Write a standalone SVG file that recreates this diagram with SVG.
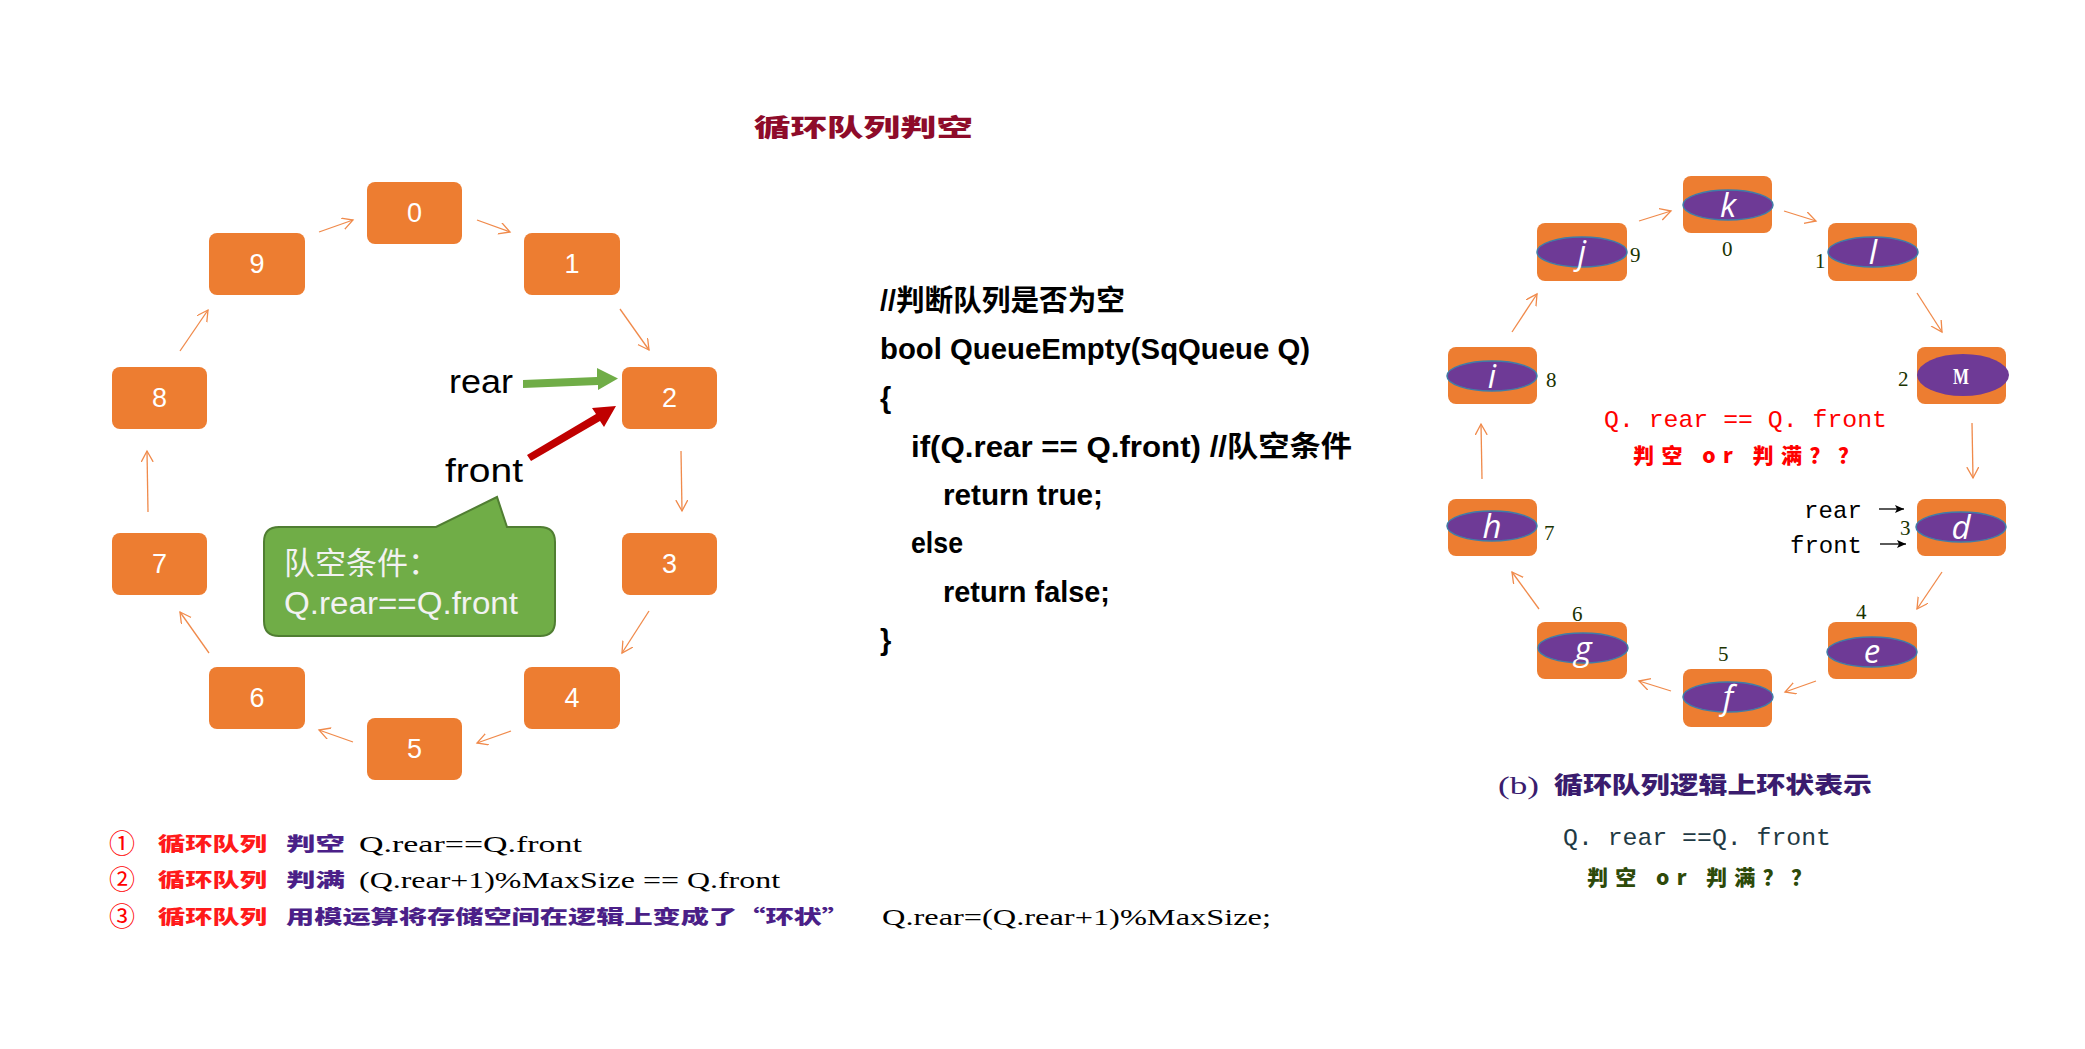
<svg xmlns="http://www.w3.org/2000/svg" width="2085" height="1049" viewBox="0 0 2085 1049">
<style>
.lnode{fill:#ED7D31}
.ltxt{font-family:"Liberation Sans",Arial,sans-serif;font-size:27px;fill:#ffffff;text-anchor:middle}
.rnode{fill:#ED7D31}
.ell{fill:#6E3A96;stroke:#3F7DA8;stroke-width:1.5}
.rtxt{font-family:"Open Sans","Liberation Sans",sans-serif;font-style:italic;font-size:33px;fill:#ffffff;text-anchor:middle}
.idx{font-family:"Liberation Serif",serif;font-size:21px;fill:#1A3300}
.conn{stroke:#F08A4B;stroke-width:1.3;fill:none}
.code{font-family:"Liberation Sans","Noto Sans CJK SC",sans-serif;font-weight:bold;font-size:29px;fill:#000000}
.cjk{font-family:"Noto Sans CJK SC",sans-serif;font-weight:900}
.mono{font-family:"Liberation Mono","Noto Sans CJK SC",monospace}
.serif{font-family:"Liberation Serif","Noto Sans CJK SC",serif}
.circ{font-family:"Noto Sans CJK SC",sans-serif;font-size:26px;fill:#FF0000}
</style>
<defs>
<marker id="oa" markerUnits="userSpaceOnUse" markerWidth="16" markerHeight="16" refX="11" refY="6" orient="auto">
<path d="M0,0 L11,6 L0,12" fill="none" stroke="#F08A4B" stroke-width="1.3"/>
</marker>
<marker id="ba" markerUnits="userSpaceOnUse" markerWidth="12" markerHeight="10" refX="9" refY="4" orient="auto">
<path d="M0,0 L9,4 L0,8 L2,4 Z" fill="#000000"/>
</marker>
</defs>
<rect width="2085" height="1049" fill="#ffffff"/>

<text x="754" y="136" class="cjk" font-size="24" fill="#8E0B2A" textLength="219" lengthAdjust="spacingAndGlyphs">循环队列判空</text>

<g id="left-ring">
<g id="n0"><rect class="lnode" x="367" y="182" width="95" height="62" rx="8"/><text class="ltxt" x="414.5" y="222">0</text></g>
<g id="n1"><rect class="lnode" x="524" y="233" width="96" height="62" rx="8"/><text class="ltxt" x="572" y="273">1</text></g>
<g id="n2"><rect class="lnode" x="622" y="367" width="95" height="62" rx="8"/><text class="ltxt" x="669.5" y="407">2</text></g>
<g id="n3"><rect class="lnode" x="622" y="533" width="95" height="62" rx="8"/><text class="ltxt" x="669.5" y="573">3</text></g>
<g id="n4"><rect class="lnode" x="524" y="667" width="96" height="62" rx="8"/><text class="ltxt" x="572" y="707">4</text></g>
<g id="n5"><rect class="lnode" x="367" y="718" width="95" height="62" rx="8"/><text class="ltxt" x="414.5" y="758">5</text></g>
<g id="n6"><rect class="lnode" x="209" y="667" width="96" height="62" rx="8"/><text class="ltxt" x="257" y="707">6</text></g>
<g id="n7"><rect class="lnode" x="112" y="533" width="95" height="62" rx="8"/><text class="ltxt" x="159.5" y="573">7</text></g>
<g id="n8"><rect class="lnode" x="112" y="367" width="95" height="62" rx="8"/><text class="ltxt" x="159.5" y="407">8</text></g>
<g id="n9"><rect class="lnode" x="209" y="233" width="96" height="62" rx="8"/><text class="ltxt" x="257" y="273">9</text></g>
</g>

<g id="left-connectors">
<line class="conn" x1="319" y1="232" x2="353" y2="220" marker-end="url(#oa)"/>
<line class="conn" x1="477" y1="220" x2="510" y2="232" marker-end="url(#oa)"/>
<line class="conn" x1="620" y1="309" x2="649" y2="350" marker-end="url(#oa)"/>
<line class="conn" x1="681" y1="451" x2="682" y2="511" marker-end="url(#oa)"/>
<line class="conn" x1="649" y1="611" x2="622" y2="653" marker-end="url(#oa)"/>
<line class="conn" x1="511" y1="731" x2="477" y2="743" marker-end="url(#oa)"/>
<line class="conn" x1="353" y1="742" x2="319" y2="730" marker-end="url(#oa)"/>
<line class="conn" x1="209" y1="653" x2="180" y2="612" marker-end="url(#oa)"/>
<line class="conn" x1="148" y1="512" x2="147" y2="451" marker-end="url(#oa)"/>
<line class="conn" x1="180" y1="351" x2="208" y2="310" marker-end="url(#oa)"/>
<polygon points="523,380 597,377 597,368 618,378.5 598,390 598,385 523,388" fill="#70AD47"/>
<polygon points="527,455 596,414 592,408 616,406 604,427 600,421 531,461" fill="#C00000"/>
</g>

<text x="449" y="393" font-family="'Liberation Sans',Arial,sans-serif" font-size="34" fill="#000" textLength="64" lengthAdjust="spacingAndGlyphs">rear</text>
<text x="445" y="482" font-family="'Liberation Sans',Arial,sans-serif" font-size="34" fill="#000" textLength="78" lengthAdjust="spacingAndGlyphs">front</text>

<g id="callout">
<path d="M279,527 L436,527 L497,497 L507,527 L540,527 Q555,527 555,542 L555,621 Q555,636 540,636 L279,636 Q264,636 264,621 L264,542 Q264,527 279,527 Z" fill="#70AD47" stroke="#507E32" stroke-width="2"/>
<text x="284" y="574" font-family="'Noto Sans CJK SC',sans-serif" font-size="31" fill="#F2F2F2">队空条件：</text>
<text x="284" y="614" font-family="'Liberation Sans',Arial,sans-serif" font-size="31" fill="#F2F2F2" textLength="234" lengthAdjust="spacingAndGlyphs">Q.rear==Q.front</text>
</g>

<g id="code">
<text class="code" x="880" y="311" textLength="245" lengthAdjust="spacingAndGlyphs">//判断队列是否为空</text>
<text class="code" x="880" y="359" textLength="430" lengthAdjust="spacingAndGlyphs">bool QueueEmpty(SqQueue Q)</text>
<text class="code" x="880" y="408">{</text>
<text class="code" x="911" y="457" textLength="441" lengthAdjust="spacingAndGlyphs">if(Q.rear == Q.front)  //队空条件</text>
<text class="code" x="943" y="505" textLength="160" lengthAdjust="spacingAndGlyphs">return true;</text>
<text class="code" x="911" y="553" textLength="52" lengthAdjust="spacingAndGlyphs">else</text>
<text class="code" x="943" y="602" textLength="167" lengthAdjust="spacingAndGlyphs">return false;</text>
<text class="code" x="880" y="650">}</text>
</g>

<g id="right-ring">
<g id="k"><rect class="rnode" x="1683" y="176" width="89" height="57" rx="8"/><ellipse class="ell" cx="1728" cy="205" rx="45" ry="15"/><text class="rtxt" x="1728" y="217">k</text></g>
<g id="l"><rect class="rnode" x="1828" y="223" width="89" height="58" rx="8"/><ellipse class="ell" cx="1873" cy="252" rx="45" ry="15"/><text class="rtxt" x="1873" y="264">l</text></g>
<g id="M"><rect class="rnode" x="1917" y="347" width="89" height="57" rx="8"/><ellipse cx="1963" cy="375" rx="46" ry="21" fill="#6E3A96"/><text x="1961" y="384" font-family="'Liberation Serif',serif" font-weight="bold" font-size="24" fill="#ffffff" text-anchor="middle" textLength="16" lengthAdjust="spacingAndGlyphs">M</text></g>
<g id="d"><rect class="rnode" x="1917" y="499" width="89" height="57" rx="8"/><ellipse class="ell" cx="1961" cy="527" rx="45" ry="15"/><text class="rtxt" x="1961" y="539">d</text></g>
<g id="e"><rect class="rnode" x="1828" y="622" width="89" height="57" rx="8"/><ellipse class="ell" cx="1872" cy="652" rx="45" ry="15"/><text class="rtxt" x="1872" y="663">e</text></g>
<g id="f"><rect class="rnode" x="1683" y="669" width="89" height="58" rx="8"/><ellipse class="ell" cx="1728" cy="697" rx="45" ry="15"/><text class="rtxt" x="1728" y="709">f</text></g>
<g id="g"><rect class="rnode" x="1537" y="622" width="90" height="57" rx="8"/><ellipse class="ell" cx="1583" cy="648" rx="45" ry="15"/><text class="rtxt" x="1583" y="660">g</text></g>
<g id="h"><rect class="rnode" x="1448" y="499" width="89" height="57" rx="8"/><ellipse class="ell" cx="1492" cy="526" rx="45" ry="15"/><text class="rtxt" x="1492" y="538">h</text></g>
<g id="i"><rect class="rnode" x="1448" y="347" width="89" height="57" rx="8"/><ellipse class="ell" cx="1492" cy="376" rx="45" ry="15"/><text class="rtxt" x="1492" y="388">i</text></g>
<g id="j"><rect class="rnode" x="1537" y="223" width="90" height="58" rx="8"/><ellipse class="ell" cx="1582" cy="252" rx="45" ry="15"/><text class="rtxt" x="1582" y="264">j</text></g>
<text class="idx" x="1630" y="262">9</text>
<text class="idx" x="1722" y="256">0</text>
<text class="idx" x="1815" y="268">1</text>
<text class="idx" x="1546" y="387">8</text>
<text class="idx" x="1898" y="386">2</text>
<text class="idx" x="1544" y="540">7</text>
<text class="idx" x="1900" y="535">3</text>
<text class="idx" x="1572" y="621">6</text>
<text class="idx" x="1856" y="619">4</text>
<text class="idx" x="1718" y="661">5</text>
</g>

<g id="right-connectors">
<line class="conn" x1="1639" y1="221" x2="1671" y2="211" marker-end="url(#oa)"/>
<line class="conn" x1="1784" y1="211" x2="1816" y2="221" marker-end="url(#oa)"/>
<line class="conn" x1="1917" y1="293" x2="1942" y2="332" marker-end="url(#oa)"/>
<line class="conn" x1="1972" y1="423" x2="1973" y2="478" marker-end="url(#oa)"/>
<line class="conn" x1="1942" y1="572" x2="1917" y2="609" marker-end="url(#oa)"/>
<line class="conn" x1="1816" y1="681" x2="1785" y2="692" marker-end="url(#oa)"/>
<line class="conn" x1="1671" y1="691" x2="1639" y2="681" marker-end="url(#oa)"/>
<line class="conn" x1="1539" y1="609" x2="1512" y2="572" marker-end="url(#oa)"/>
<line class="conn" x1="1482" y1="479" x2="1481" y2="424" marker-end="url(#oa)"/>
<line class="conn" x1="1512" y1="332" x2="1537" y2="294" marker-end="url(#oa)"/>
<line x1="1879" y1="509" x2="1904" y2="509" stroke="#000" stroke-width="1.3" marker-end="url(#ba)"/>
<line x1="1880" y1="544" x2="1906" y2="544" stroke="#000" stroke-width="1.3" marker-end="url(#ba)"/>
</g>

<text class="mono" x="1604" y="427" font-size="24" fill="#FF0000" textLength="283" lengthAdjust="spacingAndGlyphs">Q.  rear == Q.  front</text>
<text class="cjk" x="1633" y="463" font-size="21" fill="#FF0000" textLength="226" lengthAdjust="spacing">判空 or 判满？？</text>
<text class="mono" x="1804" y="518" font-size="24" fill="#000" textLength="58">rear</text>
<text class="mono" x="1790" y="553" font-size="24" fill="#000" textLength="72">front</text>

<text class="serif" x="1498" y="794" font-size="26" fill="#3A1C6E" textLength="41" lengthAdjust="spacingAndGlyphs">(b)</text>
<text class="cjk" x="1554" y="793" font-size="23" fill="#3A1C6E" textLength="318" lengthAdjust="spacingAndGlyphs">循环队列逻辑上环状表示</text>
<text class="mono" x="1563" y="845" font-size="24" fill="#1F3A44" textLength="268" lengthAdjust="spacingAndGlyphs">Q.  rear ==Q.  front</text>
<text class="cjk" x="1587" y="885" font-size="21" fill="#2E4A0A" textLength="225" lengthAdjust="spacing">判空 or 判满？？</text>

<g id="notes">
<text class="circ" x="109" y="853">①</text>
<text class="cjk" x="158" y="851" font-size="19" fill="#FF1A1A" textLength="109" lengthAdjust="spacingAndGlyphs">循环队列</text>
<text class="cjk" x="286" y="851" font-size="19" fill="#4B1F88" textLength="59" lengthAdjust="spacingAndGlyphs">判空</text>
<text class="serif" x="359" y="852" font-size="23" fill="#000" textLength="223" lengthAdjust="spacingAndGlyphs">Q.rear==Q.front</text>

<text class="circ" x="109" y="889">②</text>
<text class="cjk" x="158" y="887" font-size="19" fill="#FF1A1A" textLength="109" lengthAdjust="spacingAndGlyphs">循环队列</text>
<text class="cjk" x="286" y="887" font-size="19" fill="#4B1F88" textLength="59" lengthAdjust="spacingAndGlyphs">判满</text>
<text class="serif" x="359" y="888" font-size="23" fill="#000" textLength="421" lengthAdjust="spacingAndGlyphs">(Q.rear+1)%MaxSize == Q.front</text>

<text class="circ" x="109" y="926">③</text>
<text class="cjk" x="158" y="924" font-size="19" fill="#FF1A1A" textLength="109" lengthAdjust="spacingAndGlyphs">循环队列</text>
<text class="cjk" x="286" y="924" font-size="19" fill="#4B1F88" textLength="564" lengthAdjust="spacingAndGlyphs">用模运算将存储空间在逻辑上变成了“环状”</text>
<text class="serif" x="882" y="925" font-size="23" fill="#000" textLength="389" lengthAdjust="spacingAndGlyphs">Q.rear=(Q.rear+1)%MaxSize;</text>
</g>
</svg>
